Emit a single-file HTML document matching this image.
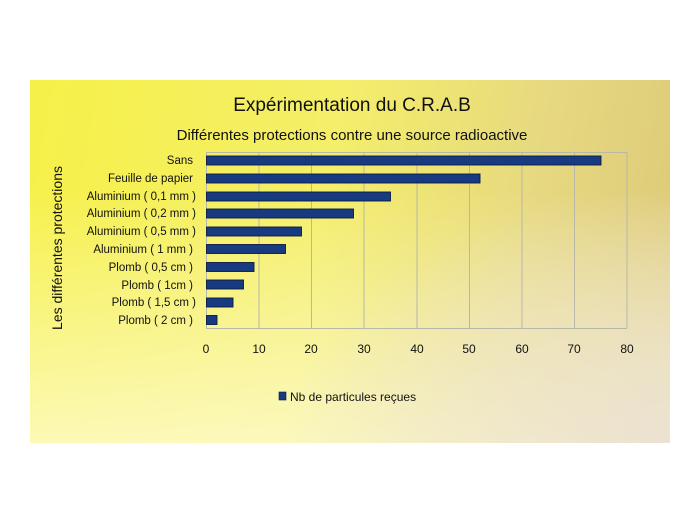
<!DOCTYPE html>
<html><head><meta charset="utf-8"><style>
body{margin:0;width:700px;height:525px;background:#fff;position:relative;overflow:hidden;font-family:"Liberation Sans",sans-serif}
#p{position:absolute;left:30px;top:80px;width:640px;height:363px;
background:radial-gradient(ellipse 60% 70% at 100% 100%,rgba(235,225,210,0.95) 0%,rgba(235,225,210,0) 100%),linear-gradient(to bottom,rgba(255,255,255,0) 30%,rgba(255,253,225,0.7) 100%),linear-gradient(100deg,#f6f148 0%,#f4ee6a 45%,#e6d880 75%,#dcc878 100%);}
</style></head><body>
<div id="p"></div>
<svg width="700" height="525" style="position:absolute;left:0;top:0" font-family="Liberation Sans, sans-serif">
<text x="352" y="111" font-size="19" text-anchor="middle" fill="#111">Expérimentation du C.R.A.B</text>
<text x="352" y="140" font-size="15" text-anchor="middle" fill="#111">Différentes protections contre une source radioactive</text>
<g stroke="#b8b8a8" stroke-width="1">
<line x1="206.5" y1="152" x2="206.5" y2="328"/><line x1="259" y1="152" x2="259" y2="328"/><line x1="311.5" y1="152" x2="311.5" y2="328"/><line x1="364" y1="152" x2="364" y2="328"/><line x1="417" y1="152" x2="417" y2="328"/><line x1="469.5" y1="152" x2="469.5" y2="328"/><line x1="522" y1="152" x2="522" y2="328"/><line x1="574.5" y1="152" x2="574.5" y2="328"/><line x1="627" y1="152" x2="627" y2="328"/>
<line x1="206" y1="152.5" x2="627" y2="152.5"/><line x1="206" y1="328.5" x2="627" y2="328.5"/>
</g>
<g fill="#173a80" stroke="#0a1a40" stroke-width="0.9">
<rect x="206.5" y="156" width="394.5" height="9"/>
<rect x="206.5" y="174" width="273.5" height="9"/>
<rect x="206.5" y="192" width="184" height="9"/>
<rect x="206.5" y="209" width="147" height="9"/>
<rect x="206.5" y="227" width="95" height="9"/>
<rect x="206.5" y="244.5" width="79" height="9"/>
<rect x="206.5" y="262.5" width="47.5" height="9"/>
<rect x="206.5" y="280" width="37" height="9"/>
<rect x="206.5" y="298" width="26.5" height="9"/>
<rect x="206.5" y="315.5" width="10.5" height="9"/>
</g>
<g font-size="11.5" text-anchor="end" fill="#111">
<text x="193" y="164">Sans</text>
<text x="193" y="182">Feuille de papier</text>
<text x="196" y="200">Aluminium ( 0,1 mm )</text>
<text x="196" y="217">Aluminium ( 0,2 mm )</text>
<text x="196" y="235">Aluminium ( 0,5 mm )</text>
<text x="193" y="253">Aluminium ( 1 mm )</text>
<text x="193" y="271">Plomb ( 0,5 cm )</text>
<text x="193" y="289">Plomb ( 1cm )</text>
<text x="196" y="306">Plomb ( 1,5 cm )</text>
<text x="193" y="324">Plomb ( 2 cm )</text>
</g>
<g font-size="12" text-anchor="middle" fill="#111">
<text x="206" y="353">0</text><text x="259" y="353">10</text><text x="311" y="353">20</text><text x="364" y="353">30</text><text x="417" y="353">40</text><text x="469" y="353">50</text><text x="522" y="353">60</text><text x="574" y="353">70</text><text x="627" y="353">80</text>
</g>
<text transform="translate(62,248) rotate(-90)" font-size="14" text-anchor="middle" fill="#111">Les différentes protections</text>
<rect x="279" y="392" width="7" height="8" fill="#173a80" stroke="#0a1a40" stroke-width="0.6"/>
<text x="290" y="401" font-size="12" fill="#111">Nb de particules reçues</text>
</svg>
</body></html>
